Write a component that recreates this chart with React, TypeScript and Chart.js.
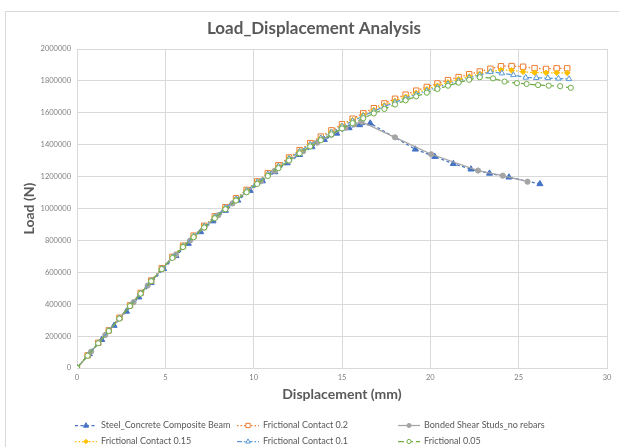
import { useEffect, useRef } from "react";
import { Chart, registerables } from "chart.js";

Chart.register(...registerables);

// ---- Data: displacement (mm) and load (N) per analysis case ----
const steelX = [0, 0.7, 1.4, 2.1, 2.8, 3.5, 4.2, 4.9, 5.6, 6.3, 7.0, 7.7, 8.4, 9.1, 9.8, 10.5, 11.2, 11.9, 12.6, 13.3, 14.0, 14.7, 15.4, 16.0, 16.6, 19.15, 20.25, 21.3, 22.3, 23.35, 24.45, 26.2];
const steelY = [0, 88000, 177000, 266000, 355000, 444000, 534000, 622000, 703000, 780000, 853000, 921000, 987000, 1051000, 1112000, 1172000, 1229000, 1285000, 1337000, 1386000, 1431000, 1471000, 1505000, 1524000, 1534000, 1371000, 1325000, 1281000, 1246000, 1220000, 1196000, 1154000];

const fric02X = [0, 0.6, 1.2, 1.8, 2.4, 3.0, 3.6, 4.2, 4.8, 5.4, 6.0, 6.6, 7.2, 7.8, 8.4, 9.0, 9.6, 10.2, 10.8, 11.4, 12.0, 12.6, 13.2, 13.8, 14.4, 15.0, 15.6, 16.2, 16.8, 17.4, 18.0, 18.6, 19.2, 19.8, 20.4, 21.0, 21.6, 22.2, 22.8, 23.4, 24.0, 24.6, 25.25, 25.9, 26.55, 27.15, 27.75];
const fric02Y = [0, 79000, 158000, 236000, 315000, 393000, 471000, 549000, 626000, 697000, 767000, 830000, 892000, 951000, 1008000, 1064000, 1117000, 1170000, 1221000, 1271000, 1320000, 1366000, 1410000, 1451000, 1490000, 1528000, 1563000, 1597000, 1629000, 1659000, 1688000, 1714000, 1739000, 1762000, 1784000, 1805000, 1824000, 1842000, 1859000, 1876000, 1892000, 1893000, 1889000, 1880000, 1875000, 1879000, 1879000];

const bondedX = [0, 0.8, 1.6, 2.4, 3.2, 4.0, 4.8, 5.6, 6.4, 7.2, 8.0, 8.8, 9.6, 10.4, 11.2, 12.0, 12.8, 13.6, 14.4, 15.2, 15.7, 16.1, 18.0, 20.05, 22.7, 24.1, 25.5];
const bondedY = [0, 103000, 207000, 310000, 413000, 517000, 619000, 712000, 799000, 880000, 958000, 1032000, 1103000, 1171000, 1237000, 1300000, 1359000, 1413000, 1462000, 1506000, 1528000, 1544000, 1446000, 1340000, 1238000, 1206000, 1168000];

const fric015X = [0, 0.6, 1.2, 1.8, 2.4, 3.0, 3.6, 4.2, 4.8, 5.4, 6.0, 6.6, 7.2, 7.8, 8.4, 9.0, 9.6, 10.2, 10.8, 11.4, 12.0, 12.6, 13.2, 13.8, 14.4, 15.0, 15.6, 16.2, 16.8, 17.4, 18.0, 18.6, 19.2, 19.8, 20.4, 21.0, 21.6, 22.2, 22.8, 23.4, 24.0, 24.6, 25.25, 25.9, 26.55, 27.15, 27.75];
const fric015Y = [0, 78000, 157000, 235000, 313000, 391000, 469000, 547000, 624000, 695000, 765000, 828000, 890000, 948000, 1005000, 1061000, 1114000, 1166000, 1217000, 1266000, 1315000, 1360000, 1403000, 1443000, 1481000, 1519000, 1553000, 1586000, 1617000, 1646000, 1674000, 1700000, 1725000, 1748000, 1770000, 1791000, 1810000, 1828000, 1845000, 1859000, 1868000, 1866000, 1857000, 1852000, 1851000, 1851000, 1850000];

const fric01X = [0, 0.6, 1.2, 1.8, 2.4, 3.0, 3.6, 4.2, 4.8, 5.4, 6.0, 6.6, 7.2, 7.8, 8.4, 9.0, 9.6, 10.2, 10.8, 11.4, 12.0, 12.6, 13.2, 13.8, 14.4, 15.0, 15.6, 16.2, 16.8, 17.4, 18.0, 18.6, 19.2, 19.8, 20.4, 21.0, 21.6, 22.2, 22.8, 23.4, 24.05, 24.7, 25.4, 26.0, 26.65, 27.25, 27.85];
const fric01Y = [0, 78000, 156000, 234000, 312000, 390000, 468000, 546000, 623000, 694000, 763000, 826000, 888000, 947000, 1004000, 1059000, 1112000, 1164000, 1215000, 1264000, 1312000, 1357000, 1401000, 1441000, 1478000, 1515000, 1548000, 1580000, 1610000, 1639000, 1666000, 1691000, 1716000, 1738000, 1760000, 1781000, 1800000, 1819000, 1837000, 1857000, 1848000, 1837000, 1821000, 1819000, 1818000, 1815000, 1812000];

const fric005X = [0, 0.6, 1.2, 1.8, 2.4, 3.0, 3.6, 4.2, 4.8, 5.4, 6.0, 6.6, 7.2, 7.8, 8.4, 9.0, 9.6, 10.2, 10.8, 11.4, 12.0, 12.6, 13.2, 13.8, 14.4, 15.0, 15.6, 16.2, 16.8, 17.4, 18.0, 18.6, 19.2, 19.8, 20.4, 21.0, 21.6, 22.2, 22.8, 23.55, 24.2, 24.9, 25.45, 26.1, 26.7, 27.35, 27.95];
const fric005Y = [0, 77000, 155000, 232000, 310000, 388000, 466000, 544000, 620000, 690000, 758000, 820000, 881000, 939000, 995000, 1050000, 1102000, 1154000, 1204000, 1253000, 1301000, 1346000, 1389000, 1428000, 1465000, 1502000, 1535000, 1566000, 1596000, 1624000, 1652000, 1678000, 1703000, 1726000, 1749000, 1770000, 1789000, 1807000, 1823000, 1816000, 1796000, 1786000, 1781000, 1774000, 1770000, 1767000, 1757000];

const seriesLabels = [
  "Steel_Concrete Composite Beam",
  "Frictional Contact 0.2",
  "Bonded Shear Studs_no rebars",
  "Frictional Contact 0.15",
  "Frictional Contact 0.1",
  "Frictional 0.05",
];

const chartTitle = "Load_Displacement Analysis";
const xTitle = "Displacement (mm)";
const yTitle = "Load (N)";
const xMin = 0;
const xMax = 30;
const xStep = 5;
const yMin = 0;
const yMax = 2000000;
const yStep = 200000;

const FONT = "Lato, 'Open Sans', sans-serif";
const TEXT = "#595959";
const GRID = "#d9d9d9";

// legend slot anchors (left end of the line sample, vertical centre)
const LEGEND_SLOTS: [number, number][] = [
  [75, 425],
  [237, 425],
  [398, 425],
  [75, 441],
  [237, 441],
  [398, 441],
];

const toPoints = (xs: number[], ys: number[]) => xs.map((x, i) => ({ x, y: ys[i] }));

// small marker glyphs for the legend samples
function drawMarker(ctx: CanvasRenderingContext2D, style: string, x: number, y: number, r: number, fill: string, stroke: string) {
  ctx.beginPath();
  if (style === "triangle") {
    ctx.moveTo(x, y - r);
    ctx.lineTo(x + r * 0.9, y + r * 0.6);
    ctx.lineTo(x - r * 0.9, y + r * 0.6);
    ctx.closePath();
  } else if (style === "rect") {
    ctx.rect(x - r * 0.7, y - r * 0.7, r * 1.4, r * 1.4);
  } else if (style === "rectRot") {
    ctx.moveTo(x, y - r);
    ctx.lineTo(x + r, y);
    ctx.lineTo(x, y + r);
    ctx.lineTo(x - r, y);
    ctx.closePath();
  } else {
    ctx.arc(x, y, r, 0, Math.PI * 2);
  }
  ctx.fillStyle = fill;
  ctx.fill();
  ctx.lineWidth = 1;
  ctx.setLineDash([]);
  ctx.strokeStyle = stroke;
  ctx.stroke();
}

const framePlugin = {
  id: "frame",
  beforeDraw(chart: any) {
    const { ctx, width, height } = chart;
    ctx.save();
    ctx.fillStyle = "#ffffff";
    ctx.fillRect(0, 0, width, height);
    ctx.strokeStyle = GRID;
    ctx.lineWidth = 1;
    ctx.strokeRect(5.5, 11.5, width + 10, height + 10);
    ctx.restore();
  },
  afterDraw(chart: any) {
    const { ctx } = chart;
    ctx.save();
    ctx.font = `bold 17px ${FONT}`;
    ctx.fillStyle = TEXT;
    ctx.textAlign = "center";
    ctx.textBaseline = "middle";
    ctx.fillText(chartTitle, 314, 29);

    chart.data.datasets.forEach((ds: any, i: number) => {
      const [lx, ly] = LEGEND_SLOTS[i];
      ctx.beginPath();
      ctx.setLineDash(ds.borderDash || []);
      ctx.lineWidth = ds.borderWidth;
      ctx.strokeStyle = ds.borderColor;
      ctx.moveTo(lx, ly + 0.5);
      ctx.lineTo(lx + 22, ly + 0.5);
      ctx.stroke();
      drawMarker(ctx, ds.pointStyle, lx + 11, ly + 0.5, ds.pointRadius * 0.8, ds.pointBackgroundColor, ds.pointBorderColor);
      ctx.font = `9px ${FONT}`;
      ctx.fillStyle = TEXT;
      ctx.textAlign = "left";
      ctx.textBaseline = "middle";
      ctx.fillText(ds.label, lx + 26, ly + 0.5);
    });
    ctx.restore();
  },
};

export default function App() {
  const canvasRef = useRef<HTMLCanvasElement | null>(null);

  useEffect(() => {
    const canvas = canvasRef.current;
    if (!canvas) return;

    const styles = [
      { color: "#4472C4", dash: [3, 2.5], point: "triangle", fill: "#4472C4", radius: 3.5, order: 6 },
      { color: "#ED7D31", dash: [1.5, 2], point: "rect", fill: "#ffffff", radius: 3.8, order: 5 },
      { color: "#A5A5A5", dash: [], point: "circle", fill: "#A5A5A5", radius: 2.6, order: 4 },
      { color: "#FFC000", dash: [1.5, 2], point: "rectRot", fill: "#FFC000", radius: 2.8, order: 3 },
      { color: "#5B9BD5", dash: [5, 2, 1.5, 2], point: "triangle", fill: "#ffffff", radius: 3.2, order: 2 },
      { color: "#70AD47", dash: [6, 3], point: "circle", fill: "#ffffff", radius: 2.6, order: 1 },
    ];
    const seriesData = [
      toPoints(steelX, steelY),
      toPoints(fric02X, fric02Y),
      toPoints(bondedX, bondedY),
      toPoints(fric015X, fric015Y),
      toPoints(fric01X, fric01Y),
      toPoints(fric005X, fric005Y),
    ];

    const datasets = seriesLabels.map((label, i) => ({
      label,
      data: seriesData[i],
      showLine: true,
      borderColor: styles[i].color,
      borderWidth: 1.25,
      borderDash: styles[i].dash,
      pointStyle: styles[i].point,
      pointRadius: styles[i].radius,
      pointBackgroundColor: styles[i].fill,
      pointBorderColor: styles[i].color,
      pointBorderWidth: 1,
      order: styles[i].order,
      tension: 0,
    }));

    const chart = new Chart(canvas, {
      type: "scatter",
      data: { datasets },
      plugins: [framePlugin],
      options: {
        animation: false,
        responsive: false,
        devicePixelRatio: 1,
        events: [],
        layout: { padding: { left: 17, right: 12, top: 49, bottom: 40 } },
        plugins: {
          legend: { display: false },
          title: { display: false },
          tooltip: { enabled: false },
        },
        scales: {
          x: {
            type: "linear",
            min: xMin,
            max: xMax,
            afterFit: (scale: any) => {
              scale.height = 39;
            },
            ticks: {
              stepSize: xStep,
              padding: 5,
              color: "#7f7f7f",
              font: { family: FONT, size: 7.5 },
              callback: (v: any) => String(v),
            },
            grid: { color: GRID, lineWidth: 1, drawTicks: false },
            border: { color: GRID },
            title: {
              display: true,
              text: xTitle,
              color: TEXT,
              font: { family: FONT, size: 14, weight: "bold" },
              padding: { top: 4, bottom: 4 },
            },
          },
          y: {
            type: "linear",
            min: yMin,
            max: yMax,
            afterFit: (scale: any) => {
              scale.width = 60;
            },
            ticks: {
              stepSize: yStep,
              padding: 6,
              color: "#7f7f7f",
              font: { family: FONT, size: 7.5 },
              callback: (v: any) => String(v),
            },
            grid: { color: GRID, lineWidth: 1, drawTicks: false },
            border: { color: GRID },
            title: {
              display: true,
              text: yTitle,
              color: TEXT,
              font: { family: FONT, size: 14, weight: "bold" },
              padding: { top: 4, bottom: 4 },
            },
          },
        },
      },
    } as any);

    return () => chart.destroy();
  }, []);

  return (
    <div style={{ position: "fixed", left: 0, top: 0, width: 619, height: 447, background: "#ffffff" }}>
      <canvas ref={canvasRef} width={619} height={447} style={{ display: "block", width: 619, height: 447 }} />
    </div>
  );
}
